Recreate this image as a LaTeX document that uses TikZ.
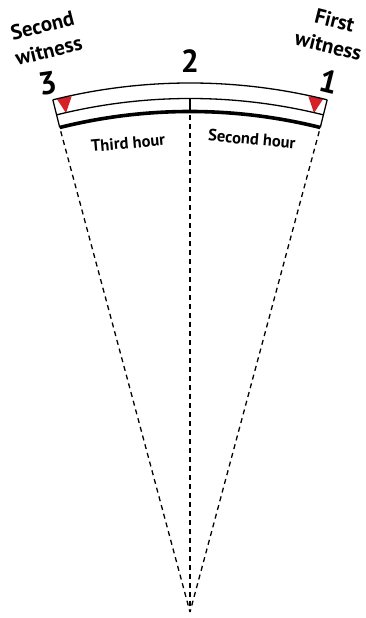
\documentclass[tikz,border=0pt]{standalone}
\usepackage{fontspec}
\setmainfont{PT Sans}
\definecolor{mred}{RGB}{213,32,39}
\begin{document}
\begin{tikzpicture}[x=1pt,y=1pt,
  arcline/.style={line width=1.3pt},
  thickarc/.style={line width=3.6pt},
  dashline/.style={line width=1.3pt, dash pattern=on 5pt off 4pt, dash phase=5pt},
  marker/.style={fill=mred, draw=none},
  num/.style={font=\fontsize{32}{32}\selectfont\bfseries, inner sep=0pt},
  wit/.style={font=\fontsize{21}{26}\selectfont\bfseries, align=center, inner sep=0pt},
  hour/.style={font=\fontsize{16.5}{17}\selectfont\bfseries, inner sep=0pt}]
\useasboundingbox (0,0) rectangle (366,618);
\coordinate (O) at (190,-32);
\coordinate (A) at (190,6);
\coordinate (TL) at ([shift={(O)}]104:567);
\coordinate (ML) at ([shift={(O)}]104:551.5);
\coordinate (BL) at ([shift={(O)}]104:538.5);
\coordinate (TR) at ([shift={(O)}]76:567);
\coordinate (MR) at ([shift={(O)}]76:551.5);
\coordinate (BR) at ([shift={(O)}]76:538.5);
\coordinate (MC) at ([shift={(O)}]90:551.5);
\coordinate (BC) at ([shift={(O)}]90:538.5);
% red markers
\fill[marker] (56.7,519.3) -- (71.7,521.7) -- (66,505) -- cycle;
\fill[marker] (308.3,521.7) -- (323.3,519.3) -- (314,505) -- cycle;
% band
\draw[arcline] (TL) arc[start angle=104, end angle=76, radius=567];
\draw[arcline] (ML) arc[start angle=104, end angle=76, radius=551.5];
\draw[thickarc] (BL) arc[start angle=104, end angle=76, radius=538.5];
\draw[arcline] (TL) -- (BL);
\draw[arcline] (TR) -- (BR);
\draw[arcline] (MC) -- (BC);
% dashed radii
\draw[dashline] (BL) -- (A);
\draw[dashline] (BC) -- (A);
\draw[dashline] (BR) -- (A);
% labels
\node[num, rotate=8] (n3) at (47.5,535) {3};
\node[num] (n2) at (190,557) {2};
\node[num, rotate=-14] (n1) at (329,536) {1};
\node[wit, rotate=14] (w2) at (45.5,580) {Second\\witness};
\node[wit, rotate=-14] (w1) at (331.5,585) {First\\witness};
\node[hour, rotate=5] (h3) at (128,475) {Third hour};
\node[hour, rotate=-5] (h2) at (252,479) {Second hour};
\end{tikzpicture}
\end{document}
